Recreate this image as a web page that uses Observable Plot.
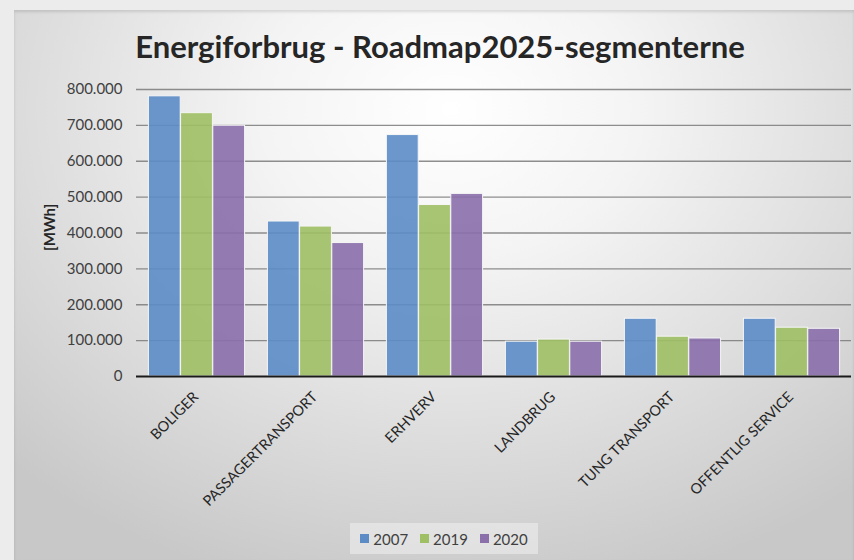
<!DOCTYPE html>
<html><head><meta charset="utf-8">
<script src="https://cdn.jsdelivr.net/npm/d3@7"></script>
<script src="https://cdn.jsdelivr.net/npm/@observablehq/plot@0.6"></script>
<style>
body{margin:0;background:#ececec;}
#wrap{position:relative;width:854px;height:560px;overflow:hidden;background:#ececec;font-family:Lato,"Open Sans",sans-serif;}
#panel{position:absolute;left:14px;top:10px;width:840px;height:550px;
 background:radial-gradient(ellipse 75% 90% at 52% 18%, #ffffff 0%, #f4f4f4 30%, #dedede 65%, #c8c8c8 100%);
 box-shadow: inset 0 2px 3px rgba(0,0,0,0.12);}
#title{position:absolute;left:0;top:0;width:854px;height:75px;box-sizing:border-box;padding-left:26px;text-align:center;line-height:92px;font-size:31px;font-weight:bold;color:#262626;white-space:nowrap;}
#chart{position:absolute;left:0;top:75px;}
#legend{position:absolute;left:350px;top:523px;width:188px;height:31px;background:rgba(240,240,240,0.55);display:flex;align-items:center;justify-content:center;gap:12px;font-size:15px;color:#404040;}
.item{display:flex;align-items:center;gap:4px;}
.sw{width:9px;height:9px;display:inline-block;}
</style></head>
<body>
<div id="wrap">
 <div id="panel"></div>
 <div id="title">Energiforbrug - Roadmap2025-segmenterne</div>
 <div id="chart"></div>
 <div id="legend"></div>
</div>
<script>
const categories = ["BOLIGER","PASSAGERTRANSPORT","ERHVERV","LANDBRUG","TUNG TRANSPORT","OFFENTLIG SERVICE"];
const years = ["2007","2019","2020"];
const values2007 = [781000, 432000, 673000, 97000, 161000, 161000];
const values2019 = [734000, 418000, 478000, 103000, 111000, 136000];
const values2020 = [699000, 372000, 509000, 97000, 106000, 133000];
const yTicks = [0,100000,200000,300000,400000,500000,600000,700000,800000];
const colors = ["#5b8cc6","#9fbf64","#8a6fab"];
const yLabel = "[MWh]";

const series = [values2007, values2019, values2020];
const data = [];
years.forEach((yr, i) => categories.forEach((c, j) => data.push({category: c, year: yr, value: series[i][j]})));

const loc = d3.formatLocale({decimal: ",", thousands: ".", grouping: [3], currency: ["", ""]});
const fmt = loc.format(",d");

const outer = 11.4, bw = 32.2;
const barMarks = years.map((yr, i) => Plot.barY(data.filter(d => d.year === yr), {
  x: "category", y: "value", fill: colors[i], fillOpacity: 0.9, stroke: "#f6f6f6", strokeWidth: 1,
  insetLeft: outer + i * bw, insetRight: outer + (2 - i) * bw
}));

const chart = Plot.plot({
  width: 854, height: 445,
  marginLeft: 136, marginRight: 3, marginTop: 14, marginBottom: 144,
  style: {background: "transparent", fontFamily: "Lato, 'Open Sans', sans-serif", color: "#404040"},
  x: {domain: categories, padding: 0, label: null},
  y: {domain: [0, 800000], label: null},
  marks: [
    Plot.gridY(yTicks.filter(d => d > 0), {stroke: "#7a7a7a", strokeOpacity: 0.85, strokeWidth: 1.4}),
    ...barMarks,
    Plot.ruleY([0], {stroke: "#1a1a1a", strokeWidth: 2}),
    Plot.axisY(yTicks, {tickSize: 0, tickPadding: 14, tickFormat: fmt, fontSize: 15, fill: "#404040", label: null}),
    Plot.axisX({tickRotate: -45, tickSize: 0, tickPadding: 18, fontSize: 14.5, fill: "#262626", label: null, dx: -1}),
    Plot.text([yLabel], {frameAnchor: "left", dx: -86, dy: 18, rotate: -90, fontSize: 15, fontWeight: "bold", fill: "#262626"})
  ]
});
document.getElementById("chart").appendChild(chart);

const lg = document.getElementById("legend");
years.forEach((yr, i) => {
  const it = document.createElement("div"); it.className = "item";
  const sw = document.createElement("span"); sw.className = "sw"; sw.style.background = colors[i];
  const tx = document.createElement("span"); tx.textContent = yr;
  it.appendChild(sw); it.appendChild(tx); lg.appendChild(it);
});
</script>
</body></html>
